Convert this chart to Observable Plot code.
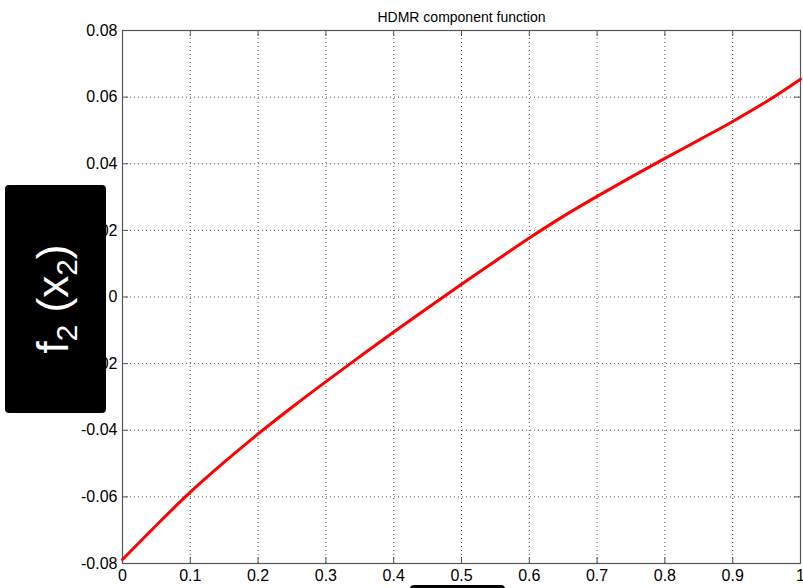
<!DOCTYPE html>
<html>
<head>
<meta charset="utf-8">
<script src="https://cdn.jsdelivr.net/npm/d3@7"></script>
<script src="https://cdn.jsdelivr.net/npm/@observablehq/plot@0.6"></script>
<style>
  html, body { margin: 0; padding: 0; background: #fff; overflow: hidden; }
  #wrap { position: relative; width: 803px; height: 588px; overflow: hidden; font-family: "Liberation Sans", Arial, sans-serif; }
  #ylab { position: absolute; left: 5px; top: 185px; width: 101px; height: 228px; background: #000; border-radius: 4px; }
  #ylab span { position: absolute; left: 50%; top: 50%; transform: translate(-50%, -50%) rotate(-90deg); color: #fff; font-size: 44px; white-space: nowrap; line-height: 1; }
  #ylab sub { font-size: 0.68em; vertical-align: -0.3em; }
  #xlab { position: absolute; left: 410px; top: 585px; width: 95px; height: 40px; background: #000; border-radius: 4px; }
</style>
</head>
<body>
<div id="wrap"></div>
<script>
const title = "HDMR component function";
const xs = [0, 0.05, 0.1, 0.15, 0.2, 0.25, 0.3, 0.35, 0.4, 0.45, 0.5, 0.55, 0.6, 0.65, 0.7, 0.75, 0.8, 0.85, 0.9, 0.95, 1.0];
const ys = [-0.0788, -0.0685, -0.0586, -0.0496, -0.0411, -0.0331, -0.0254, -0.0179, -0.0105, -0.0033, 0.0038, 0.0108, 0.0177, 0.0242, 0.0302, 0.0360, 0.0416, 0.0471, 0.0527, 0.0587, 0.0654];
const xTicks = [0, 0.1, 0.2, 0.3, 0.4, 0.5, 0.6, 0.7, 0.8, 0.9, 1];
const xTickLabels = ["0", "0.1", "0.2", "0.3", "0.4", "0.5", "0.6", "0.7", "0.8", "0.9", "1"];
const yTicks = [-0.08, -0.06, -0.04, -0.02, 0, 0.02, 0.04, 0.06, 0.08];
const yTickLabels = ["-0.08", "-0.06", "-0.04", "-0.02", "0", "0.02", "0.04", "0.06", "0.08"];

const data = xs.map((x, i) => ({x, y: ys[i]}));
const W = 803, H = 588, mL = 122, mR = 3, mT = 30, mB = 25;
const pw = W - mL - mR, ph = H - mT - mB;
const tick = 6;
const axisColor = "#555";

const chart = Plot.plot({
  width: W, height: H,
  marginLeft: mL, marginRight: mR, marginTop: mT, marginBottom: mB,
  style: {fontFamily: "'Liberation Sans', Arial, sans-serif", background: "#fff", color: "#000", fontSize: "15px"},
  x: {domain: [0, 1]},
  y: {domain: [-0.08, 0.08]},
  marks: [
    Plot.gridX(xTicks.slice(1, -1), {stroke: "#444", strokeOpacity: 0.9, strokeDasharray: "1,3"}),
    Plot.gridY(yTicks.slice(1, -1), {stroke: "#444", strokeOpacity: 0.9, strokeDasharray: "1,3"}),
    Plot.tickX(xTicks, {x: d => d, insetTop: ph - tick, stroke: axisColor}),
    Plot.tickX(xTicks, {x: d => d, insetBottom: ph - tick, stroke: axisColor}),
    Plot.tickY(yTicks, {y: d => d, insetRight: pw - tick, stroke: axisColor}),
    Plot.tickY(yTicks, {y: d => d, insetLeft: pw - tick, stroke: axisColor}),
    Plot.frame({stroke: axisColor, strokeWidth: 1.2}),
    Plot.axisX(xTicks, {tickSize: 0, tickPadding: 6, fontSize: 16, label: null, tickFormat: d => xTickLabels[xTicks.indexOf(d)], fill: "#000"}),
    Plot.axisY(yTicks, {tickSize: 0, tickPadding: 5, fontSize: 16, label: null, tickFormat: d => yTickLabels[yTicks.indexOf(d)], fill: "#000"}),
    Plot.line(data, {x: "x", y: "y", stroke: "#ff0000", strokeWidth: 3, curve: "catmull-rom"}),
    Plot.text([title], {frameAnchor: "top", dy: -18, fontSize: 14, fill: "#000", text: d => d})
  ]
});
const wrap = document.getElementById("wrap");
wrap.appendChild(chart);
const yl = document.createElement("div");
yl.id = "ylab";
yl.innerHTML = "<span>f<sub>2</sub> (x<sub>2</sub>)</span>";
wrap.appendChild(yl);
const xl = document.createElement("div");
xl.id = "xlab";
wrap.appendChild(xl);
</script>
</body>
</html>
